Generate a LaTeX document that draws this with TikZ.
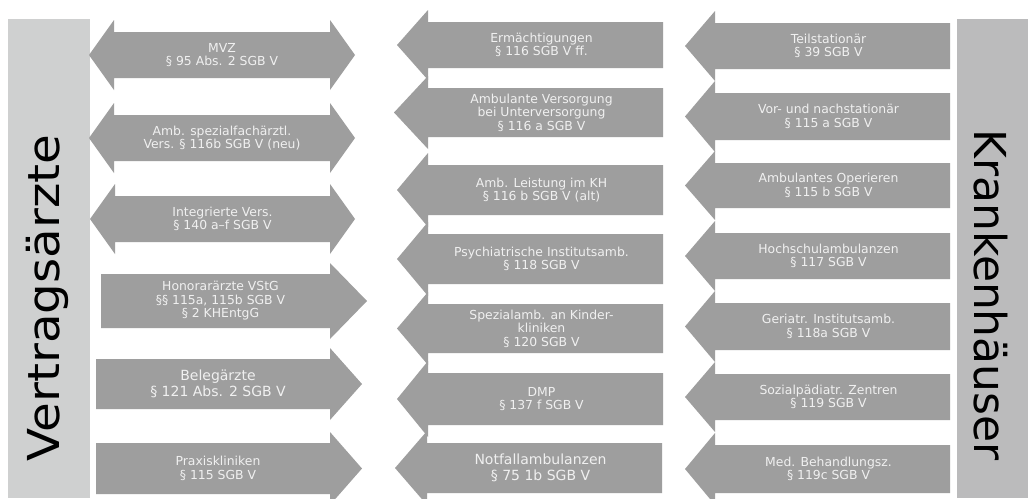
\documentclass[tikz,border=0pt]{standalone}
\usepackage{fontspec}
\setmainfont{DejaVu Sans}
\definecolor{arrgray}{RGB}{158,158,158}
\definecolor{lbar}{RGB}{207,208,208}
\definecolor{rbar}{RGB}{187,187,188}
\definecolor{lbltext}{RGB}{240,240,240}
\tikzset{
  arr/.style={fill=arrgray},
  lbl/.style={text=lbltext, align=center, inner sep=0pt, font=\fontsize{12.4}{13.5}\selectfont},
  biglbl/.style={lbl, font=\fontsize{14}{15.5}\selectfont},
  side/.style={text=black, inner sep=0pt, font=\fontsize{44}{48}\selectfont},
}
% left-pointing arrow: name, tipx, basex, rightx, ytop, ybot, text, style
\newcommand{\LeftArr}[8]{%
  \fill[arr] (#2,{(#5+#6)/2}) -- (#3,#5-12) -- (#3,#5) -- (#4,#5) -- (#4,#6) -- (#3,#6) -- (#3,#6+12) -- cycle;
  \node[#8] (#1) at ({(#3+#4)/2-4},{(#5+#6)/2}) {#7};}
% right-pointing arrow: name, leftx, basex, tipx, ytop, ybot, text, style
\newcommand{\RightArr}[8]{%
  \fill[arr] (#4,{(#5+#6)/2}) -- (#3,#5-11) -- (#3,#5) -- (#2,#5) -- (#2,#6) -- (#3,#6) -- (#3,#6+11) -- cycle;
  \node[#8] (#1) at ({(#2+#3)/2+5},{(#5+#6)/2}) {#7};}
% double arrow: name, ltip, lbase, rbase, rtip, ytop, ybot, text
\newcommand{\BothArr}[8]{%
  \fill[arr] (#2,{(#6+#7)/2}) -- (#3,#6-12) -- (#3,#6) -- (#4,#6) -- (#4,#6-12) -- (#5,{(#6+#7)/2}) -- (#4,#7+12) -- (#4,#7) -- (#3,#7) -- (#3,#7+12) -- cycle;
  \node[lbl] (#1) at ({(#3+#4)/2},{(#6+#7)/2}) {#8};}
\begin{document}
\begin{tikzpicture}[x=1pt,y=-1pt]
\useasboundingbox (0,0) rectangle (1028,498);
\fill[white] (0,0) rectangle (1028,498);
% side bars
\fill[lbar] (8,19) rectangle (90,498);
\fill[rbar] (957,19) rectangle (1028,498);
\node[side, rotate=90] (va) at (47,298) {\scalebox{1.1}[1]{Vertragsärzte}};
\node[side, rotate=-90] (kh) at (991,295) {Krankenhäuser};
% left column
\BothArr{mvz}{89}{114}{330}{355}{32}{78}{MVZ\\§ 95 Abs. 2 SGB V}
\BothArr{asv}{89}{114}{330}{355}{115}{161}{Amb. spezialfachärztl.\\Vers. § 116b SGB V (neu)}
\BothArr{iv}{90}{115}{330}{355}{196}{242}{Integrierte Vers.\\§ 140 a–f SGB V}
\RightArr{hon}{101}{330}{367}{274}{328}{Honorarärzte VStG\\§§ 115a, 115b SGB V\\§ 2 KHEntgG}{lbl}
\RightArr{beleg}{96}{330}{362}{359}{409}{Belegärzte\\§ 121 Abs. 2 SGB V}{biglbl}
\RightArr{praxis}{96}{330}{362}{443}{494}{Praxiskliniken\\§ 115 SGB V}{lbl}
% middle column
\LeftArr{erm}{397}{428}{663}{22}{68}{Ermächtigungen\\§ 116 SGB V ff.}{lbl}
\LeftArr{unter}{394}{428}{663}{88}{137}{Ambulante Versorgung\\bei Unterversorgung\\§ 116 a SGB V}{lbl}
\LeftArr{leist}{397}{428}{663}{165}{215}{Amb. Leistung im KH\\§ 116 b SGB V (alt)}{lbl}
\LeftArr{psych}{397}{428}{663}{234}{284}{Psychiatrische Institutsamb.\\§ 118 SGB V}{lbl}
\LeftArr{kinder}{397}{428}{663}{304}{353}{Spezialamb. an Kinder-\\kliniken\\§ 120 SGB V}{lbl}
\LeftArr{dmp}{397}{428}{663}{373}{425}{DMP\\§ 137 f SGB V}{lbl}
\LeftArr{notfall}{395}{427}{662}{443}{493}{Notfallambulanzen\\§ 75 1b SGB V}{biglbl}
% right column
\LeftArr{teil}{685}{715}{950}{23}{69}{Teilstationär\\§ 39 SGB V}{lbl}
\LeftArr{vor}{685}{715}{950}{93}{140}{Vor- und nachstationär\\§ 115 a SGB V}{lbl}
\LeftArr{op}{685}{715}{950}{163}{208}{Ambulantes Operieren\\§ 115 b SGB V}{lbl}
\LeftArr{hoch}{685}{715}{950}{233}{279}{Hochschulambulanzen\\§ 117 SGB V}{lbl}
\LeftArr{geri}{685}{715}{950}{303}{350}{Geriatr. Institutsamb.\\§ 118a SGB V}{lbl}
\LeftArr{sozial}{685}{715}{950}{374}{420}{Sozialpädiatr. Zentren\\§ 119 SGB V}{lbl}
\LeftArr{med}{685}{715}{950}{445}{493}{Med. Behandlungsz.\\§ 119c SGB V}{lbl}
\end{tikzpicture}
\end{document}
